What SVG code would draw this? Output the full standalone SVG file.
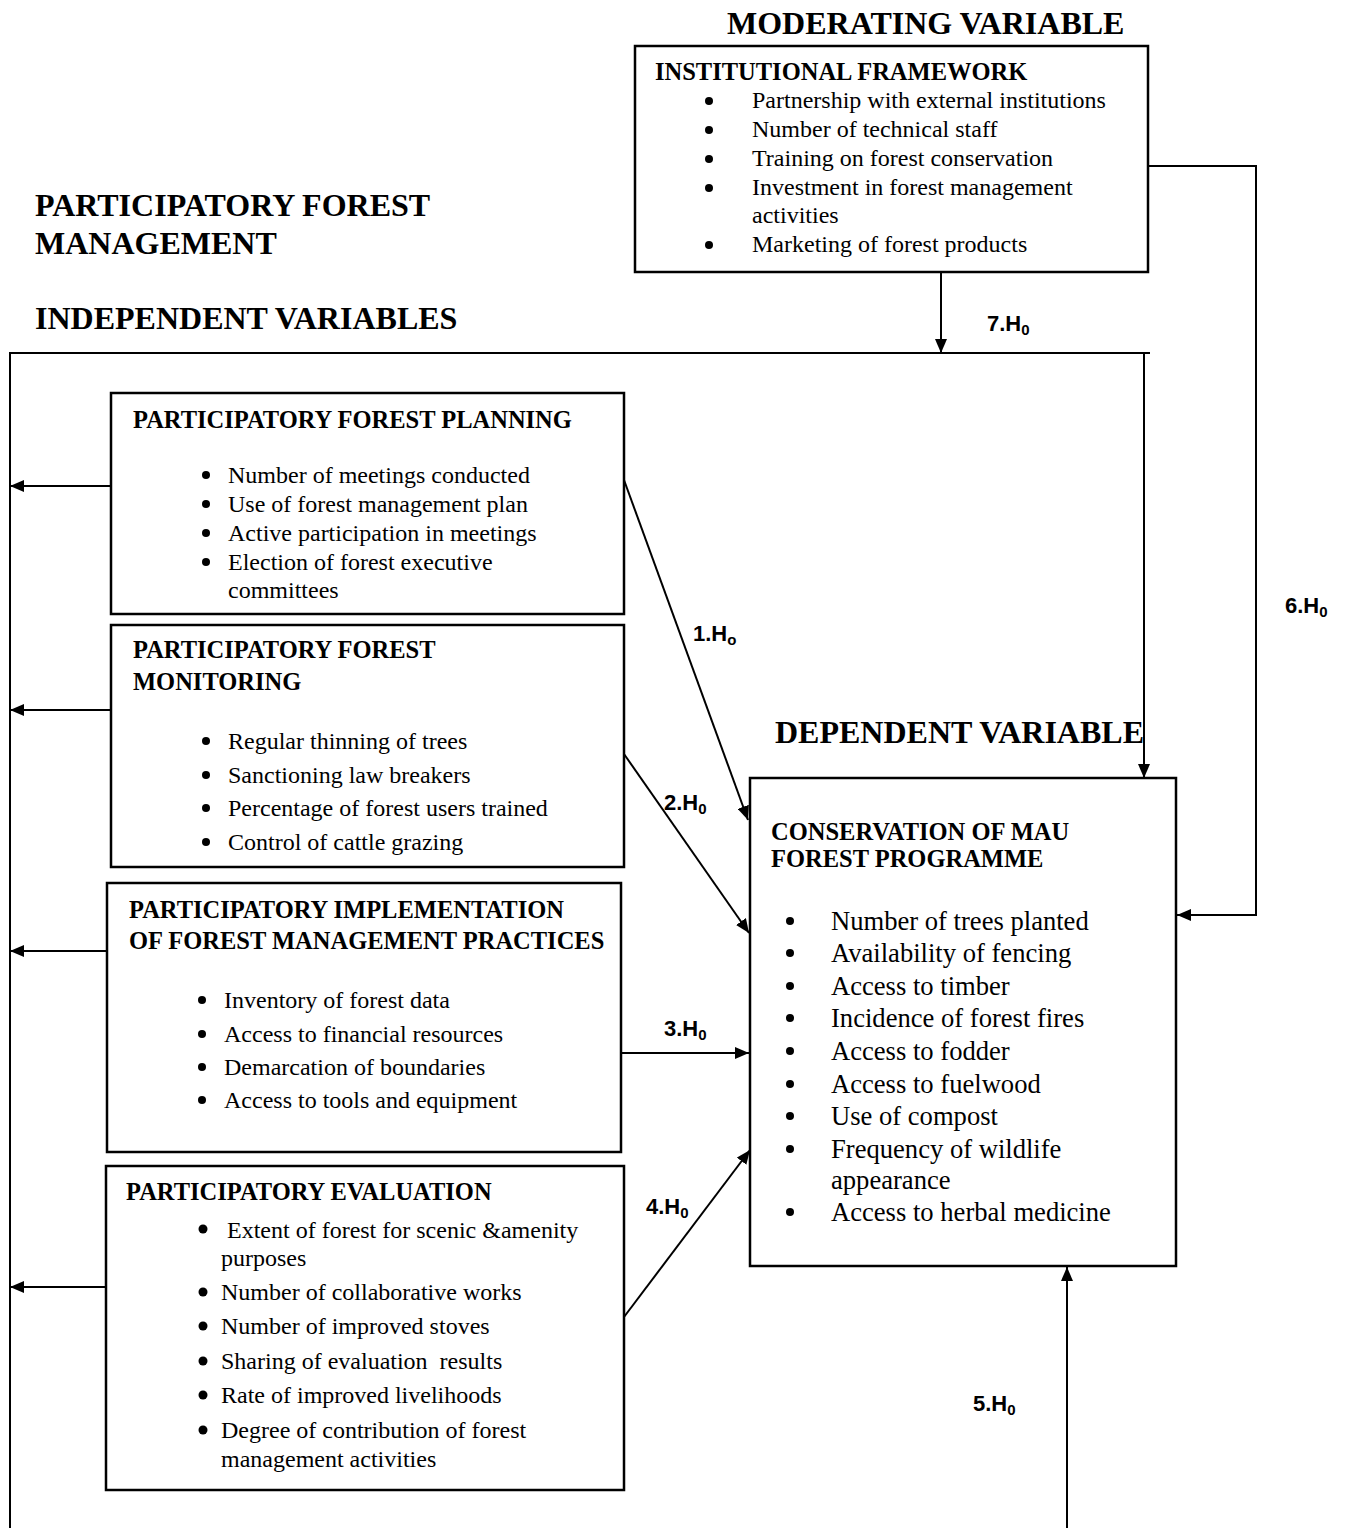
<svg xmlns="http://www.w3.org/2000/svg" width="1355" height="1528" viewBox="0 0 1355 1528">
<style>
.box{fill:#fff;stroke:#000;stroke-width:2.5}
.ln{fill:none;stroke:#000;stroke-width:2}
.dot{fill:#000}
.h{font-family:"Times New Roman","Liberation Serif",Tinos,serif;font-weight:bold;font-size:32px;fill:#000}
.t{font-family:"Times New Roman","Liberation Serif",Tinos,serif;font-weight:bold;font-size:24.5px;fill:#000}
.b{font-family:"Times New Roman","Liberation Serif",Tinos,serif;font-size:24px;fill:#000}
.d{font-family:"Times New Roman","Liberation Serif",Tinos,serif;font-size:26.6px;fill:#000}
.hy{font-family:"Liberation Sans",Arial,sans-serif;font-weight:bold;font-size:22px;fill:#000}
.sub{font-size:15px}
</style>
<defs>
<marker id="ah" markerUnits="userSpaceOnUse" markerWidth="14" markerHeight="12" viewBox="0 0 14 12" refX="14" refY="6" orient="auto">
<path d="M0,0 L14,6 L0,12 Z" fill="#000"/>
</marker>
</defs>
<rect width="1355" height="1528" fill="#fff"/>

<g id="headings">
<text class="h" x="727" y="34">MODERATING VARIABLE</text>
<text class="h" x="35" y="216">PARTICIPATORY FOREST</text>
<text class="h" x="35" y="254">MANAGEMENT</text>
<text class="h" x="35" y="329">INDEPENDENT VARIABLES</text>
<text class="h" x="775" y="743">DEPENDENT VARIABLE</text>
</g>

<g id="connectors">
<line class="ln" x1="941" y1="272" x2="941" y2="353" marker-end="url(#ah)"/>
<polyline class="ln" points="10,1528 10,353 1150,353"/>
<line class="ln" x1="1144" y1="353" x2="1144" y2="778" marker-end="url(#ah)"/>
<polyline class="ln" points="1148,166 1256,166 1256,915 1177,915" marker-end="url(#ah)"/>
<line class="ln" x1="111" y1="486" x2="10" y2="486" marker-end="url(#ah)"/>
<line class="ln" x1="111" y1="710" x2="10" y2="710" marker-end="url(#ah)"/>
<line class="ln" x1="107" y1="951" x2="10" y2="951" marker-end="url(#ah)"/>
<line class="ln" x1="106" y1="1287" x2="10" y2="1287" marker-end="url(#ah)"/>
<line class="ln" x1="624" y1="480" x2="748" y2="820" marker-end="url(#ah)"/>
<line class="ln" x1="624" y1="754" x2="749" y2="933" marker-end="url(#ah)"/>
<line class="ln" x1="621" y1="1053" x2="749" y2="1053" marker-end="url(#ah)"/>
<line class="ln" x1="624" y1="1317" x2="750" y2="1150" marker-end="url(#ah)"/>
<line class="ln" x1="1067" y1="1528" x2="1067" y2="1267" marker-end="url(#ah)"/>
<text class="hy" x="987" y="331">7.H<tspan class="sub" dy="4">0</tspan></text>
<text class="hy" x="1285" y="613">6.H<tspan class="sub" dy="4">0</tspan></text>
<text class="hy" x="693" y="641">1.H<tspan class="sub" dy="4">o</tspan></text>
<text class="hy" x="664" y="810">2.H<tspan class="sub" dy="4">0</tspan></text>
<text class="hy" x="664" y="1036">3.H<tspan class="sub" dy="4">0</tspan></text>
<text class="hy" x="646" y="1214">4.H<tspan class="sub" dy="4">0</tspan></text>
<text class="hy" x="973" y="1411">5.H<tspan class="sub" dy="4">0</tspan></text>
</g>

<g id="institutional-framework">
<rect class="box" x="635" y="46" width="513" height="226"/>
<text class="t" x="655" y="80">INSTITUTIONAL FRAMEWORK</text>
<circle class="dot" cx="709" cy="101" r="4"/>
<circle class="dot" cx="709" cy="130" r="4"/>
<circle class="dot" cx="709" cy="159" r="4"/>
<circle class="dot" cx="709" cy="188" r="4"/>
<circle class="dot" cx="709" cy="245" r="4"/>
<g class="b">
<text x="752" y="108">Partnership with external institutions</text>
<text x="752" y="137">Number of technical staff</text>
<text x="752" y="166">Training on forest conservation</text>
<text x="752" y="195">Investment in forest management</text>
<text x="752" y="223">activities</text>
<text x="752" y="252">Marketing of forest products</text>
</g>
</g>

<g id="forest-planning">
<rect class="box" x="111" y="393" width="513" height="221"/>
<text class="t" x="133" y="428">PARTICIPATORY FOREST PLANNING</text>
<circle class="dot" cx="206" cy="475" r="4"/>
<circle class="dot" cx="206" cy="504" r="4"/>
<circle class="dot" cx="206" cy="533" r="4"/>
<circle class="dot" cx="206" cy="562" r="4"/>
<g class="b">
<text x="228" y="483">Number of meetings conducted</text>
<text x="228" y="512">Use of forest management plan</text>
<text x="228" y="541">Active participation in meetings</text>
<text x="228" y="570">Election of forest executive</text>
<text x="228" y="598">committees</text>
</g>
</g>

<g id="forest-monitoring">
<rect class="box" x="111" y="625" width="513" height="242"/>
<text class="t" x="133" y="658">PARTICIPATORY FOREST</text>
<text class="t" x="133" y="690">MONITORING</text>
<circle class="dot" cx="206" cy="741" r="4"/>
<circle class="dot" cx="206" cy="775" r="4"/>
<circle class="dot" cx="206" cy="808" r="4"/>
<circle class="dot" cx="206" cy="842" r="4"/>
<g class="b">
<text x="228" y="749">Regular thinning of trees</text>
<text x="228" y="783">Sanctioning law breakers</text>
<text x="228" y="816">Percentage of forest users trained</text>
<text x="228" y="850">Control of cattle grazing</text>
</g>
</g>

<g id="implementation">
<rect class="box" x="107" y="883" width="514" height="269"/>
<text class="t" x="129" y="918">PARTICIPATORY IMPLEMENTATION</text>
<text class="t" x="129" y="949">OF FOREST MANAGEMENT PRACTICES</text>
<circle class="dot" cx="202" cy="1000" r="4"/>
<circle class="dot" cx="202" cy="1034" r="4"/>
<circle class="dot" cx="202" cy="1067" r="4"/>
<circle class="dot" cx="202" cy="1100" r="4"/>
<g class="b">
<text x="224" y="1008">Inventory of forest data</text>
<text x="224" y="1042">Access to financial resources</text>
<text x="224" y="1075">Demarcation of boundaries</text>
<text x="224" y="1108">Access to tools and equipment</text>
</g>
</g>

<g id="evaluation">
<rect class="box" x="106" y="1166" width="518" height="324"/>
<text class="t" x="126" y="1200">PARTICIPATORY EVALUATION</text>
<circle class="dot" cx="203" cy="1229" r="4.5"/>
<circle class="dot" cx="203" cy="1292" r="4.5"/>
<circle class="dot" cx="203" cy="1326" r="4.5"/>
<circle class="dot" cx="203" cy="1361" r="4.5"/>
<circle class="dot" cx="203" cy="1395" r="4.5"/>
<circle class="dot" cx="203" cy="1430" r="4.5"/>
<g class="b">
<text x="227" y="1238">Extent of forest for scenic &amp;amenity</text>
<text x="221" y="1266">purposes</text>
<text x="221" y="1300">Number of collaborative works</text>
<text x="221" y="1334">Number of improved stoves</text>
<text x="221" y="1369" xml:space="preserve">Sharing of evaluation  results</text>
<text x="221" y="1403">Rate of improved livelihoods</text>
<text x="221" y="1438">Degree of contribution of forest</text>
<text x="221" y="1467">management activities</text>
</g>
</g>

<g id="conservation">
<rect class="box" x="750" y="778" width="426" height="488"/>
<text class="t" x="771" y="840">CONSERVATION OF MAU</text>
<text class="t" x="771" y="867">FOREST PROGRAMME</text>
<circle class="dot" cx="790" cy="921" r="4"/>
<circle class="dot" cx="790" cy="953" r="4"/>
<circle class="dot" cx="790" cy="986" r="4"/>
<circle class="dot" cx="790" cy="1018" r="4"/>
<circle class="dot" cx="790" cy="1051" r="4"/>
<circle class="dot" cx="790" cy="1084" r="4"/>
<circle class="dot" cx="790" cy="1116" r="4"/>
<circle class="dot" cx="790" cy="1149" r="4"/>
<circle class="dot" cx="790" cy="1212" r="4"/>
<g class="d">
<text x="831" y="930">Number of trees planted</text>
<text x="831" y="962">Availability of fencing</text>
<text x="831" y="995">Access to timber</text>
<text x="831" y="1027">Incidence of forest fires</text>
<text x="831" y="1060">Access to fodder</text>
<text x="831" y="1093">Access to fuelwood</text>
<text x="831" y="1125">Use of compost</text>
<text x="831" y="1158">Frequency of wildlife</text>
<text x="831" y="1189">appearance</text>
<text x="831" y="1221">Access to herbal medicine</text>
</g>
</g>
</svg>
